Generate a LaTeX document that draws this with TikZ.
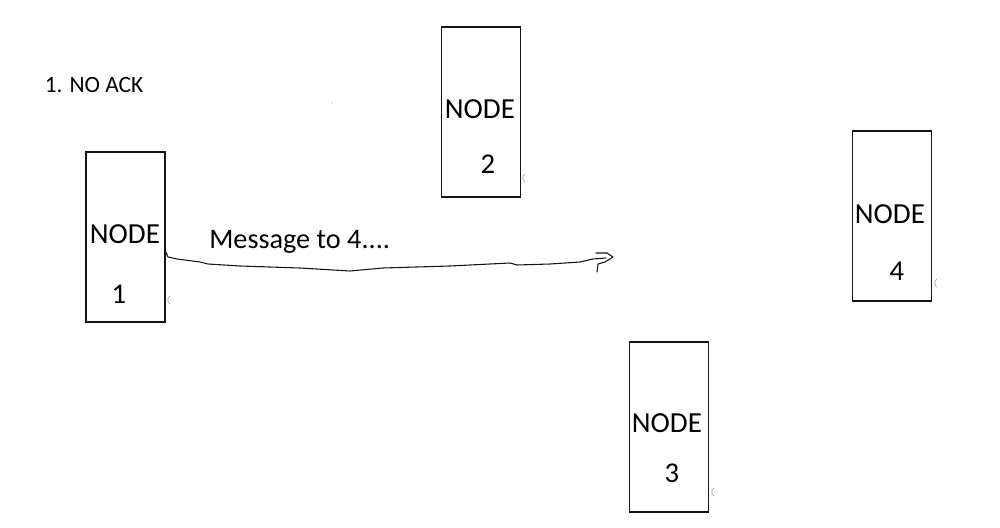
\documentclass[tikz,border=0pt]{standalone}
\usepackage{fontspec}
\setmainfont{Carlito}
\usepackage{tikz}
\usetikzlibrary{positioning, calc}
\definecolor{inkblack}{RGB}{20,20,20}
\definecolor{speckgray}{RGB}{150,150,150}
\tikzset{
  nodebox/.style={rectangle,draw=inkblack,line width=1.3pt,minimum width=59.25pt,minimum height=127.5pt,inner sep=0pt},
  boxtext/.style={inner sep=0pt,font=\fontsize{21.8}{25}\selectfont},
  numtext/.style={inner sep=0pt,font=\fontsize{21.5}{25}\selectfont},
  msgtext/.style={inner sep=0pt,font=\fontsize{21.2}{25}\selectfont},
  titletext/.style={inner sep=0pt,font=\fontsize{17.5}{21}\selectfont},
  handline/.style={draw=inkblack,line width=0.8pt,line join=round,line cap=round},
  speck/.style={draw=speckgray,line width=0.5pt}
}
\begin{document}
\begin{tikzpicture}[x=0.75pt,y=-0.75pt]
  \useasboundingbox (0,0) rectangle (1000,528);

  % caption
  \node[titletext] (cap) at (94,85) {1. NO ACK};

  % the four boxes
  \node[nodebox] (n1) at (125.5,237) {};
  \node[nodebox] (n2) at (481,112) {};
  \node[nodebox] (n3) at (669,427) {};
  \node[nodebox] (n4) at (892,216) {};

  \node[boxtext] (n1a) at (125,234) {NODE};
  \node[numtext] (n1b) at (119,294) {1};
  \node[boxtext] (n2a) at (480,109) {NODE};
  \node[numtext] (n2b) at (488,164) {2};
  \node[boxtext] (n3a) at (667,423) {NODE};
  \node[numtext] (n3b) at (672,473) {3};
  \node[boxtext] (n4a) at (890,214) {NODE};
  \node[numtext] (n4b) at (897,271) {4};

  % message from 1, drawn by hand
  \node[msgtext,anchor=base west] (msg) at (209,248) {Message to 4....};
  \coordinate (tip) at (613,257);
  \draw[handline] (n1.east |- 0,252) -- (168,257) -- (177,259) -- (200,262) -- (208,264)
    -- (240,266) -- (300,268) -- (350,271) -- (383,268) -- (450,266) -- (510,263)
    -- (517,265) -- (550,264) -- (580,262) -- (593,259) -- (606,258);
  \draw[handline] (596,253) -- (607,253) -- (tip) -- (605,262) -- (598,264) -- (597,272);

  % little specks
  \draw[speck] (170,296) -- (168,298) -- (168,302) -- (170,304);
  \draw[speck] (525,174) -- (523,176) -- (523,180) -- (525,182);
  \draw[speck] (714,488) -- (712,490) -- (712,494) -- (714,496);
  \draw[speck] (937,279) -- (935,281) -- (935,285) -- (937,287);
  \fill[speckgray] (332,103) circle (0.6);
\end{tikzpicture}
\end{document}
